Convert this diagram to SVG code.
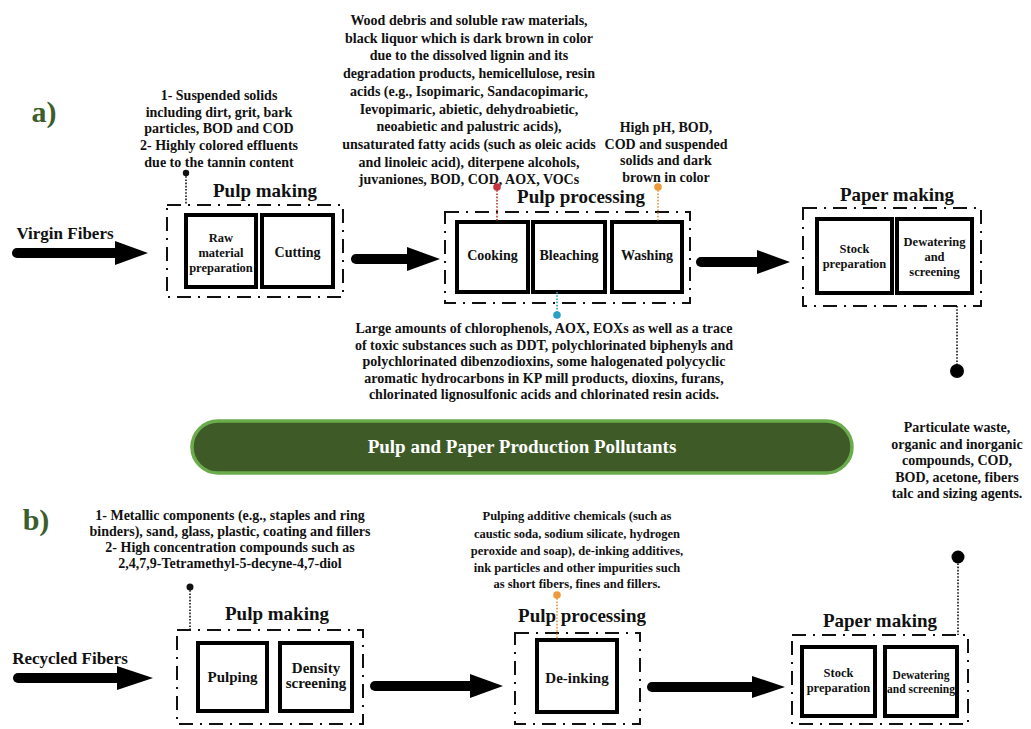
<svg xmlns="http://www.w3.org/2000/svg" width="1031" height="729" viewBox="0 0 1031 729">
<style>
text{font-family:"Liberation Serif","Times New Roman",serif;font-weight:bold;fill:#111;text-anchor:middle}
.t14{font-size:14px}
.t13{font-size:12.5px}
.title{font-size:19px}
.box{fill:#fff;stroke:#000;stroke-width:4}
.frame{fill:none;stroke:#111;stroke-width:2;stroke-dasharray:14 7 2 7}
.shaft{stroke:#000;stroke-width:10;stroke-linecap:round;fill:none}
.head{fill:#000}
.dot{fill:none;stroke-width:1.6;stroke-dasharray:1.6 1.6}
.lab{font-size:30px;fill:#3b5e2b}
.bl{font-size:12.5px}
</style>

<text class="lab" x="44" y="122">a)</text>
<text class="lab" x="36" y="530">b)</text>

<!-- a) Pulp making -->
<g id="a-pulp-making">
  <rect class="frame" x="167" y="205" width="176" height="92"/>
  <text class="title" x="265" y="197">Pulp making</text>
</g>
<g id="a-raw-material"><rect class="box" x="186" y="215" width="70" height="72"/>
  <text class="bl" x="221" y="242">Raw</text><text class="bl" x="221" y="257">material</text><text class="bl" x="221" y="272">preparation</text></g>
<g id="a-cutting"><rect class="box" x="262" y="215" width="71" height="72"/>
  <text class="t14" x="297.5" y="257">Cutting</text></g>

<!-- a) Pulp processing -->
<g id="a-pulp-processing">
  <rect class="frame" x="445" y="212" width="245" height="91"/>
  <text class="title" x="581" y="203">Pulp processing</text>
</g>
<g id="a-cooking"><rect class="box" x="457" y="222" width="71" height="70"/>
  <text class="t14" x="492.5" y="260">Cooking</text></g>
<g id="a-bleaching"><rect class="box" x="533" y="222" width="72" height="70"/>
  <text class="t14" x="569" y="260">Bleaching</text></g>
<g id="a-washing"><rect class="box" x="612" y="222" width="70" height="70"/>
  <text class="t14" x="647" y="260">Washing</text></g>

<!-- a) Paper making -->
<g id="a-paper-making">
  <rect class="frame" x="803" y="208" width="178" height="98"/>
  <text class="title" x="897" y="201">Paper making</text>
</g>
<g id="a-stock"><rect class="box" x="817" y="219" width="75" height="74"/>
  <text class="bl" x="854.5" y="253">Stock</text><text class="bl" x="854.5" y="268">preparation</text></g>
<g id="a-dewatering"><rect class="box" x="897" y="219" width="75" height="74"/>
  <text class="bl" x="934.5" y="246">Dewatering</text><text class="bl" x="934.5" y="261">and</text><text class="bl" x="934.5" y="276">screening</text></g>

<!-- a) input label -->
<g id="a-virgin"><text class="t14" x="65" y="239" style="font-size:17px">Virgin Fibers</text></g>

<!-- a) annotations -->
<g id="a-note-pulp-making" class="t14">
  <text x="219" y="100">1- Suspended solids</text>
  <text x="219" y="117">including dirt, grit, bark</text>
  <text x="219" y="133">particles, BOD and COD</text>
  <text x="219" y="150">2- Highly colored effluents</text>
  <text x="219" y="167">due to the tannin content</text>
</g>
<g id="a-note-cooking" class="t14">
  <text x="469" y="25">Wood debris and soluble raw materials,</text>
  <text x="469" y="42.7">black liquor which is dark brown in color</text>
  <text x="469" y="60.4">due to the dissolved lignin and its</text>
  <text x="469" y="78.1">degradation products, hemicellulose, resin</text>
  <text x="469" y="95.8">acids (e.g., Isopimaric,  Sandacopimaric,</text>
  <text x="469" y="113.5">Ievopimaric, abietic, dehydroabietic,</text>
  <text x="469" y="131.2">neoabietic and palustric acids),</text>
  <text x="469" y="148.9">unsaturated fatty acids (such as oleic acids</text>
  <text x="469" y="166.6">and linoleic acid), diterpene alcohols,</text>
  <text x="469" y="184.3">juvaniones, BOD, COD, AOX, VOCs</text>
</g>
<g id="a-note-washing" class="t14">
  <text x="666" y="132">High pH, BOD,</text>
  <text x="666" y="148.5">COD and suspended</text>
  <text x="666" y="165">solids and dark</text>
  <text x="666" y="181.5">brown in color</text>
</g>
<g id="a-note-bleaching" class="t14">
  <text x="544" y="333">Large amounts of chlorophenols, AOX, EOXs as well as a trace</text>
  <text x="544" y="349.5">of toxic substances such as DDT, polychlorinated biphenyls and</text>
  <text x="544" y="366">polychlorinated dibenzodioxins, some halogenated polycyclic</text>
  <text x="544" y="382.5">aromatic hydrocarbons in KP mill products, dioxins, furans,</text>
  <text x="544" y="399">chlorinated lignosulfonic acids and chlorinated resin acids.</text>
</g>
<g id="a-note-paper" class="t14">
  <text x="957" y="432">Particulate waste,</text>
  <text x="957" y="448.5">organic and inorganic</text>
  <text x="957" y="465">compounds, COD,</text>
  <text x="957" y="481.5">BOD, acetone, fibers</text>
  <text x="957" y="498">talc and sizing agents.</text>
</g>

<!-- banner -->
<g id="banner">
  <rect x="192" y="421" width="660" height="52" rx="26" fill="#3d5a27" stroke="#6aac4c" stroke-width="3.5"/>
  <text x="522" y="453" style="font-size:19px;fill:#fff">Pulp and Paper Production Pollutants</text>
</g>

<!-- b) Pulp making -->
<g id="b-pulp-making">
  <rect class="frame" x="177" y="630" width="186" height="94"/>
  <text class="title" x="277" y="620">Pulp making</text>
</g>
<g id="b-pulping"><rect class="box" x="198" y="643" width="69" height="68"/>
  <text class="t14" x="232.5" y="682" style="font-size:15px">Pulping</text></g>
<g id="b-density"><rect class="box" x="280" y="643" width="72" height="68"/>
  <text class="t14" x="316" y="673" style="font-size:15px">Density</text><text class="t14" x="316" y="688" style="font-size:15px">screening</text></g>

<!-- b) Pulp processing -->
<g id="b-pulp-processing">
  <rect class="frame" x="515" y="633" width="125" height="91"/>
  <text class="title" x="582" y="622">Pulp processing</text>
</g>
<g id="b-deinking"><rect class="box" x="537" y="640" width="80" height="72"/>
  <text class="t14" x="577" y="683" style="font-size:15px">De-inking</text></g>

<!-- b) Paper making -->
<g id="b-paper-making">
  <rect class="frame" x="792" y="635" width="176" height="89"/>
  <text class="title" x="880" y="627">Paper making</text>
</g>
<g id="b-stock"><rect class="box" x="802" y="647" width="73" height="69"/>
  <text class="bl" x="838.5" y="677">Stock</text><text class="bl" x="838.5" y="692">preparation</text></g>
<g id="b-dewatering"><rect class="box" x="885" y="647" width="72" height="69"/>
  <text class="bl" x="921" y="679" style="font-size:11.5px">Dewatering</text><text class="bl" x="921" y="693" style="font-size:11.5px">and screening</text></g>

<g id="b-recycled"><text class="t14" x="70" y="664" style="font-size:17px">Recycled Fibers</text></g>

<g id="b-note-pulp-making" class="t14">
  <text x="230" y="520">1- Metallic components (e.g., staples and ring</text>
  <text x="230" y="536">binders), sand, glass, plastic, coating and fillers</text>
  <text x="230" y="552">2- High concentration compounds such as</text>
  <text x="230" y="567.5">2,4,7,9-Tetramethyl-5-decyne-4,7-diol</text>
</g>
<g id="b-note-deinking" class="t13">
  <text x="577" y="520">Pulping additive chemicals (such as</text>
  <text x="577" y="537.5">caustic soda, sodium silicate, hydrogen</text>
  <text x="577" y="554.5">peroxide and soap), de-inking additives,</text>
  <text x="577" y="571.5">ink particles and other impurities such</text>
  <text x="577" y="588">as short fibers, fines and fillers.</text>
</g>

<!-- connectors -->
<g id="connectors">
  <line class="shaft" x1="17" y1="253" x2="118" y2="253"/><polygon class="head" points="115,241 148,253 115,265"/>
  <line class="shaft" x1="356" y1="259" x2="410" y2="259"/><polygon class="head" points="407,247 440,259 407,271"/>
  <line class="shaft" x1="701" y1="262" x2="760" y2="262"/><polygon class="head" points="757,250 790,262 757,274"/>
  <line class="shaft" x1="18" y1="678" x2="120" y2="678"/><polygon class="head" points="117,666 153,678 117,690"/>
  <line class="shaft" x1="375" y1="686" x2="473" y2="686"/><polygon class="head" points="470,674 503,686 470,698"/>
  <line class="shaft" x1="652" y1="687" x2="755" y2="687"/><polygon class="head" points="752,676 785,687 752,698"/>

  <line class="dot" stroke="#111" x1="186" y1="173" x2="186" y2="205"/><circle cx="186" cy="173" r="3.2" fill="#111"/>
  <line class="dot" stroke="#c0392b" x1="497" y1="187" x2="497" y2="222"/><circle cx="497" cy="187" r="3.8" fill="#c8323a"/>
  <line class="dot" stroke="#e8963a" x1="658" y1="187" x2="658" y2="222"/><circle cx="658" cy="187" r="3.8" fill="#ef9a3a"/>
  <line class="dot" stroke="#2a9fc0" x1="557" y1="292" x2="557" y2="315"/><circle cx="557" cy="315" r="3.8" fill="#2aa0c4"/>
  <line class="dot" stroke="#111" x1="957" y1="306" x2="957" y2="371"/><circle cx="957" cy="371" r="7" fill="#000"/>

  <line class="dot" stroke="#111" x1="190" y1="587" x2="190" y2="630"/><circle cx="190" cy="587" r="3.5" fill="#111"/>
  <line class="dot" stroke="#e8963a" x1="557" y1="595" x2="557" y2="640"/><circle cx="557" cy="595" r="3.8" fill="#ef9a3a"/>
  <line class="dot" stroke="#111" x1="958" y1="557" x2="958" y2="635"/><circle cx="958" cy="557" r="6.5" fill="#000"/>
</g>
</svg>
